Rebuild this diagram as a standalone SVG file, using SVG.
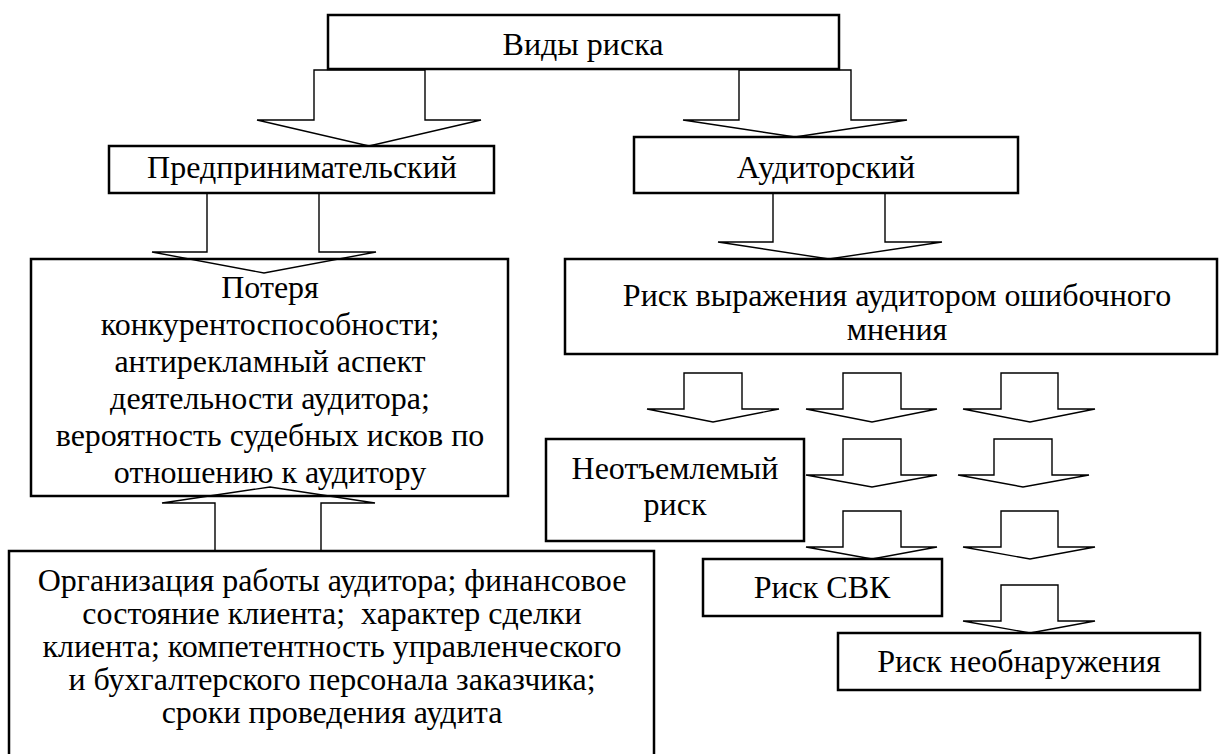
<svg xmlns="http://www.w3.org/2000/svg" width="1220" height="754" viewBox="0 0 1220 754">
<style>
.box{fill:#fff;stroke:#000;stroke-width:2.5}
.arr{fill:none;stroke:#000;stroke-width:1.4;stroke-linejoin:miter}
text{font-family:"Liberation Serif","Times New Roman",serif;font-size:32px;fill:#000;text-anchor:middle}
</style>
<rect width="1220" height="754" fill="#fff"/>
<g id="n-vidy"><rect class="box" x="328" y="15" width="511" height="54"/><text x="583" y="55">Виды риска</text></g>
<g id="n-predpr"><rect class="box" x="109" y="146" width="385" height="47"/><text x="302" y="178">Предпринимательский</text></g>
<g id="n-audit"><rect class="box" x="634" y="137" width="384" height="56"/><text x="826" y="178">Аудиторский</text></g>
<g id="n-poterya"><rect class="box" x="31" y="259" width="477" height="237"/>
<text x="270" y="298">Потеря</text>
<text x="270" y="335">конкурентоспособности;</text>
<text x="270" y="372">антирекламный аспект</text>
<text x="270" y="409">деятельности аудитора;</text>
<text x="270" y="446">вероятность судебных исков по</text>
<text x="270" y="483">отношению к аудитору</text></g>
<g id="n-riskvyr"><rect class="box" x="565" y="259" width="652" height="95"/>
<text x="897" y="306">Риск выражения аудитором ошибочного</text>
<text x="897" y="340">мнения</text></g>
<g id="n-org"><rect class="box" x="9" y="551" width="645" height="215"/>
<text x="332" y="591">Организация работы аудитора; финансовое</text>
<text x="332" y="624" style="white-space:pre">состояние клиента;  характер сделки</text>
<text x="332" y="657">клиента; компетентность управленческого</text>
<text x="332" y="690">и бухгалтерского персонала заказчика;</text>
<text x="332" y="723">сроки проведения аудита</text></g>
<g id="n-neot"><rect class="box" x="546" y="439" width="258" height="102"/>
<text x="675" y="479">Неотъемлемый</text>
<text x="675" y="515">риск</text></g>
<g id="n-svk"><rect class="box" x="703" y="559" width="239" height="57"/><text x="822" y="598">Риск СВК</text></g>
<g id="n-neobn"><rect class="box" x="838" y="633" width="362" height="57"/><text x="1019" y="672">Риск необнаружения</text></g>
<g id="connectors">
<polygon class="arr" points="314,70 425,70 425,120 481,120 369,146 257,120 314,120"/>
<polygon class="arr" points="739,70 851,70 851,120 907,120 795,137 683,120 739,120"/>
<polygon class="arr" points="207,193 319,193 319,252 376,252 264,273 152,252 207,252"/>
<polygon class="arr" points="773,193 885,193 885,242 942,242 829,259 718,242 773,242"/>
<polygon class="arr" points="215,551 321,551 321,503 375,503 270,487 162,503 215,503"/>
<polygon class="arr" points="684,373 742,373 742,409 779,409 713,422 647,409 684,409"/>
<polygon class="arr" points="843,373 901,373 901,409 937,409 872,422 806,409 843,409"/>
<polygon class="arr" points="1001,373 1058,373 1058,409 1095,409 1030,422 963,409 1001,409"/>
<polygon class="arr" points="843,439 901,439 901,475 937,475 872,487 806,475 843,475"/>
<polygon class="arr" points="994,439 1052,439 1052,475 1089,475 1023,487 958,475 994,475"/>
<polygon class="arr" points="843,511 901,511 901,547 937,547 872,559 806,547 843,547"/>
<polygon class="arr" points="1001,511 1058,511 1058,547 1095,547 1030,559 963,547 1001,547"/>
<polygon class="arr" points="1001,585 1058,585 1058,621 1095,621 1030,633 963,621 1001,621"/>
</g>
</svg>
